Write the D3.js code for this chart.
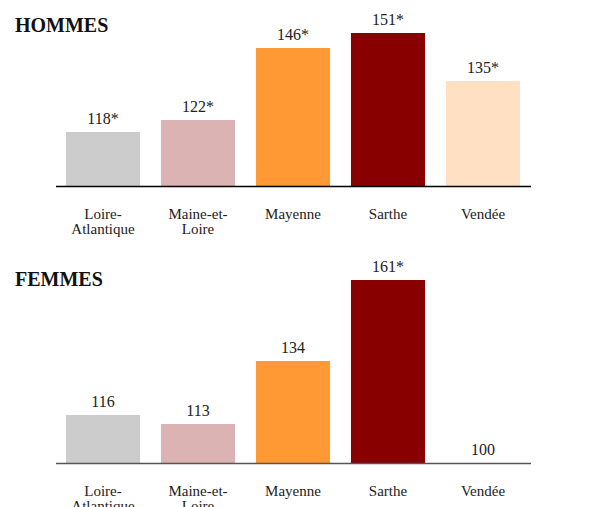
<!DOCTYPE html>
<html>
<head>
<meta charset="utf-8">
<script src="https://cdn.jsdelivr.net/npm/d3@7"></script>
<style>
  html, body { margin: 0; padding: 0; background: #fff; }
  svg { display: block; }
</style>
</head>
<body>
<div id="chart"></div>
<script>
const categories = ["Loire-Atlantique", "Maine-et-Loire", "Mayenne", "Sarthe", "Vendée"];
const labelLines = [["Loire-", "Atlantique"], ["Maine-et-", "Loire"], ["Mayenne"], ["Sarthe"], ["Vendée"]];
const colors = ["#cccccc", "#dbb3b3", "#ff9933", "#880000", "#ffe0c2"];
const hommesValues = [118, 122, 146, 151, 135];
const hommesLabels = ["118*", "122*", "146*", "151*", "135*"];
const femmesValues = [116, 113, 134, 161, 100];
const femmesLabels = ["116", "113", "134", "161*", "100"];
const panels = [
  { title: "HOMMES", values: hommesValues, labels: hommesLabels, titleY: 31.5, baseY: 186, axisColor: "#000" },
  { title: "FEMMES", values: femmesValues, labels: femmesLabels, titleY: 285.5, baseY: 463, axisColor: "#555" }
];

const W = 589, H = 507;
const svg = d3.select("#chart").append("svg").attr("width", W).attr("height", H);
const font = "'Liberation Serif', 'Times New Roman', serif";

const x = d3.scaleBand().domain(categories).range([55.5, 530.5]).paddingInner(0.22).paddingOuter(0.11);

panels.forEach(p => {
  const y = d3.scaleLinear().domain([100, 200]).range([p.baseY, p.baseY - 300]);
  const g = svg.append("g");
  g.append("text").attr("x", 15).attr("y", p.titleY)
    .attr("font-family", font).attr("font-weight", "bold").attr("font-size", 20)
    .attr("fill", "#111").text(p.title);

  g.selectAll("rect.bar").data(categories).join("rect").attr("class", "bar")
    .attr("x", d => x(d)).attr("width", x.bandwidth())
    .attr("y", (d, i) => y(p.values[i]))
    .attr("height", (d, i) => y(100) - y(p.values[i]))
    .attr("fill", (d, i) => colors[i]);

  g.selectAll("text.val").data(categories).join("text").attr("class", "val")
    .attr("x", d => x(d) + x.bandwidth() / 2)
    .attr("y", (d, i) => y(p.values[i]) - 8)
    .attr("text-anchor", "middle").attr("font-family", font).attr("font-size", 16)
    .attr("fill", "#222").text((d, i) => p.labels[i]);

  const axis = d3.axisBottom(x).tickSize(0).tickFormat("");
  const ag = g.append("g").attr("transform", `translate(0,${p.baseY})`).call(axis);
  ag.select(".domain").attr("stroke", p.axisColor).attr("stroke-width", 1.5);

  const lbl = g.selectAll("text.cat").data(categories).join("text").attr("class", "cat")
    .attr("x", d => x(d) + x.bandwidth() / 2)
    .attr("y", p.baseY + 33)
    .attr("text-anchor", "middle").attr("font-family", font).attr("font-size", 15)
    .attr("fill", "#222");
  lbl.each(function(d, i) {
    const t = d3.select(this);
    labelLines[i].forEach((line, k) => {
      t.append("tspan").attr("x", x(d) + x.bandwidth() / 2).attr("dy", k === 0 ? 0 : 14.5).text(line);
    });
  });
});
</script>
</body>
</html>
